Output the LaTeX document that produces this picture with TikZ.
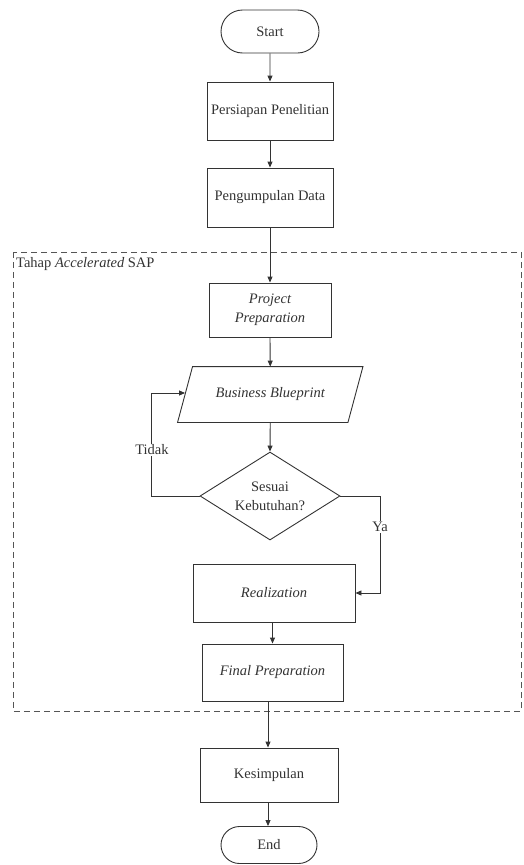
\documentclass[tikz,border=0pt]{standalone}
\usepackage{fontspec}
\setmainfont{Liberation Serif}
\usetikzlibrary{arrows.meta,shapes.geometric,shapes.misc,calc}

\definecolor{ink}{HTML}{333333}
\definecolor{frame}{HTML}{555555}

\tikzset{
  base/.style={draw=ink, line width=0.9pt, text=ink, align=center,
    font=\fontsize{14.5}{19}\selectfont, inner sep=0pt},
  stepbox/.style={base, rectangle},
  terminal/.style={base, rounded rectangle},
  decision/.style={base, diamond},
  flow/.style={draw=ink, line width=0.9pt,
    -{Triangle[length=6pt,width=5pt]}},
  lbl/.style={fill=white, text=ink, inner sep=1pt,
    font=\fontsize{14.5}{19}\selectfont},
  phase/.style={draw=frame, line width=0.9pt, dash pattern=on 6pt off 4pt}
}

\begin{document}
\begin{tikzpicture}[x=1pt,y=-1pt]
  \useasboundingbox (0,0) rectangle (523,865);

  % dashed frame around the Accelerated SAP phases
  \draw[phase] (13,252) rectangle (521,711);
  \node[text=ink, anchor=north west, inner sep=0pt,
        font=\fontsize{14.5}{19}\selectfont] (phaselbl) at (16,257)
        {Tahap \textit{Accelerated} SAP};

  % main flow
  \node[terminal, minimum width=98pt, minimum height=43pt] (start) at (270,31.5) {Start};
  \node[stepbox, minimum width=126pt, minimum height=58pt] (prep) at (270,111) {Persiapan Penelitian};
  \node[stepbox, minimum width=126pt, minimum height=59pt] (data) at (270,197.5) {Pengumpulan Data};
  \node[stepbox, minimum width=122pt, minimum height=54pt, font=\fontsize{14.5}{19}\selectfont\itshape]
       (proj) at (270,310) {Project\\Preparation};

  % Business Blueprint as a parallelogram around a text node
  \node[base, draw=none, minimum width=169.5pt, minimum height=55pt,
        font=\fontsize{14.5}{19}\selectfont\itshape] (bb) at (270.25,394.5) {Business Blueprint};
  \draw[draw=ink, line width=0.9pt]
       ($(bb.north west)+(7.5,0)$) -- ($(bb.north east)+(7.5,0)$)
    -- ($(bb.south east)+(-7.5,0)$) -- ($(bb.south west)+(-7.5,0)$) -- cycle;

  \node[decision, minimum width=140pt, minimum height=88pt, aspect=1.59]
       (fit) at (270,496) {Sesuai\\Kebutuhan?};

  \node[stepbox, minimum width=162pt, minimum height=58pt, font=\fontsize{14.5}{19}\selectfont\itshape]
       (real) at (274,593) {Realization};
  \node[stepbox, minimum width=141pt, minimum height=57pt, font=\fontsize{14.5}{19}\selectfont\itshape]
       (final) at (272.5,672.5) {Final Preparation};
  \node[stepbox, minimum width=138pt, minimum height=54pt] (kes) at (269,775) {Kesimpulan};
  \node[terminal, minimum width=96pt, minimum height=37pt] (end) at (269,845) {End};

  % connectors
  \draw[flow] (start) -- (prep);
  \draw[flow] (prep) -- (data);
  \draw[flow] (data) -- (proj);
  \draw[flow] (proj.south) -- (bb.north);
  \draw[flow] (bb.south) -- (fit.north);
  \coordinate (bbin) at ($(bb.west)+(0,-1.5)$);
  \draw[flow] (fit.west) -- ++(-48,0) |- (bbin);
  \node[lbl] (no) at (152,450) {Tidak};
  \draw[flow] (fit.east) -- ++(40,0) |- (real.east);
  \node[lbl] (yes) at (380,527) {Ya};
  \draw[flow] (final.north |- real.south) -- (final.north);
  \draw[flow] ($(kes.north |- final.south)+(-1,0)$) -- ($(kes.north)+(-1,0)$);
  \draw[flow] ($(kes.south)+(-1,0)$) -- ($(end.north)+(-1,0)$);
\end{tikzpicture}
\end{document}
